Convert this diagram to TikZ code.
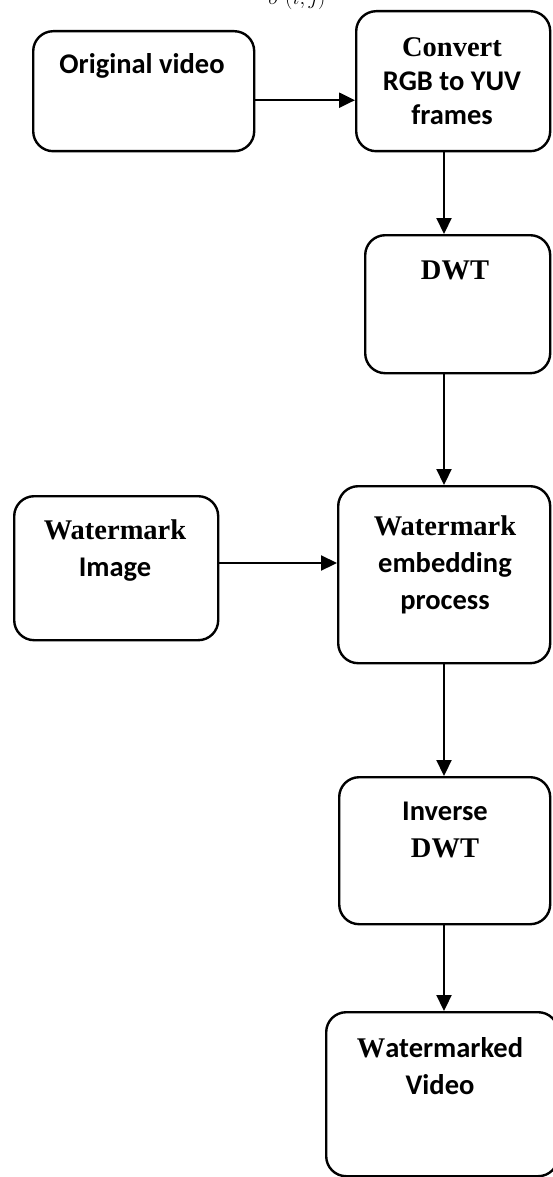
\documentclass[tikz,border=0pt]{standalone}
\usepackage{fontspec}
\setmainfont{Carlito}
\newfontfamily\tnr{Liberation Serif}
\usetikzlibrary{arrows.meta}
\begin{document}
\begin{tikzpicture}[x=1pt,y=-1pt,
  box/.style={draw, line width=2.4pt, rounded corners=20pt, inner sep=0pt, anchor=north west},
  txt/.style={font=\fontsize{28.5}{37}\selectfont\bfseries, inner sep=0pt, align=center},
  arr/.style={line width=2.2pt, -{Triangle[length=16pt,width=15pt]}}]
\useasboundingbox (0,0) rectangle (552,1177);
% clipped formula at the top
\node[inner sep=0pt, anchor=base, font=\fontsize{22}{24}\selectfont] (top) at (297,5) {$\sigma'(i,j)$};
% boxes
\node[box, minimum width=221pt, minimum height=120pt] (b1) at (32,30) {};
\node[box, minimum width=194pt, minimum height=140pt] (b2) at (355,10) {};
\node[box, minimum width=185pt, minimum height=138pt] (b3) at (364,234) {};
\node[box, minimum width=212pt, minimum height=177pt] (b4) at (337,485) {};
\node[box, minimum width=204pt, minimum height=144pt] (b5) at (13,495) {};
\node[box, minimum width=211pt, minimum height=147pt] (b6) at (338,776) {};
\node[box, minimum width=232pt, minimum height=164pt] (b7) at (325,1011) {};
% texts
\node[txt] (t1) at (142,66) {Original video};
\node[txt] (t2) at (452,81) {{\tnr Convert}\\[-3pt]RGB to YUV\\[-3pt]frames};
\node[txt] (t3) at (455,270) {\tnr DWT};
\node[txt] (t4) at (445,565) {{\tnr Watermark}\\embedding\\process};
\node[txt] (t5) at (115,551) {{\tnr Watermark}\\Image};
\node[txt] (t6) at (445,830) {Inverse\\{\tnr DWT}};
\node[txt] (t7) at (440,1066) {{\tnr W}atermarked\\Video};
% connectors
\draw[arr] ([yshift=-9pt]b1.east) -- ([yshift=-9pt]b1.east -| b2.west);
\draw[arr] (b2.south -| 444,0) -- (b3.north -| 444,0);
\draw[arr] (b3.south -| 444,0) -- (b4.north -| 444,0);
\draw[arr] (b5.east |- 0,563) -- (b4.west |- 0,563);
\draw[arr] (b4.south -| 444,0) -- (b6.north -| 444,0);
\draw[arr] (b6.south -| 444,0) -- (b7.north -| 444,0);
\end{tikzpicture}
\end{document}
